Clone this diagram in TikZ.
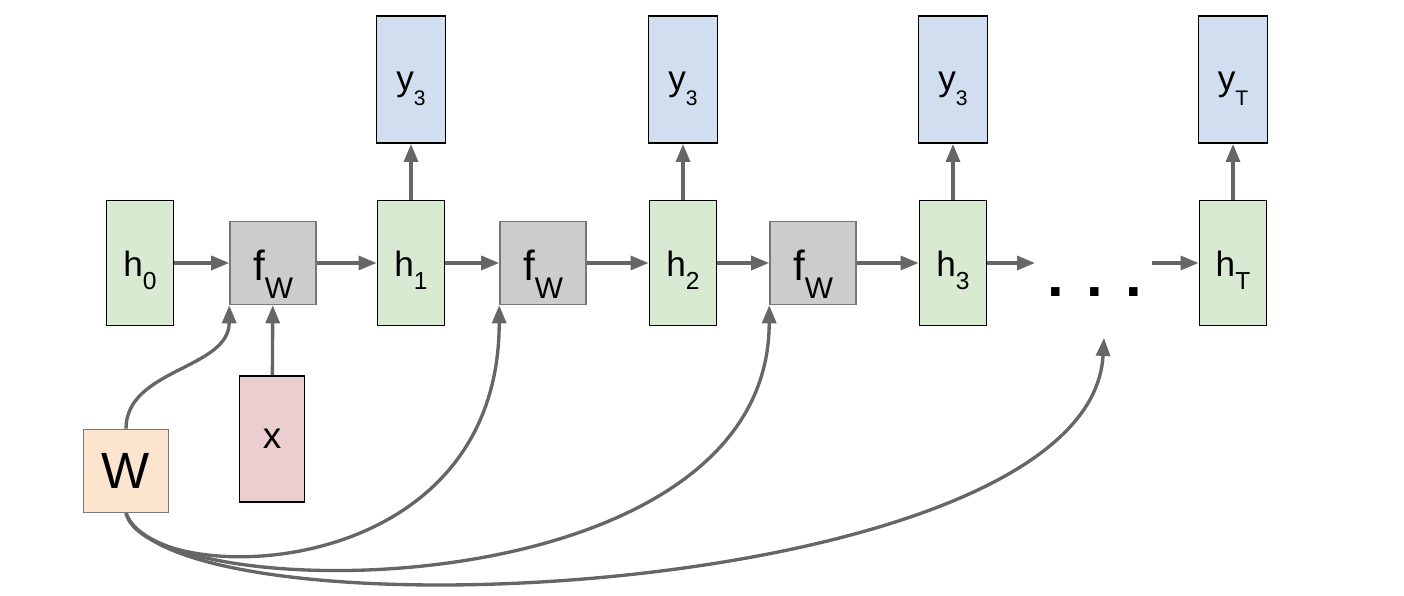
\documentclass[tikz,border=0pt]{standalone}
\usepackage{fontspec}
\setmainfont{Liberation Sans}
\usetikzlibrary{arrows.meta}

\definecolor{hgreen}{HTML}{D9EAD3}
\definecolor{yblue}{HTML}{D0DEEF}
\definecolor{xred}{HTML}{EBCECE}
\definecolor{wtan}{HTML}{FBE5CF}
\definecolor{fgray}{HTML}{CCCCCC}
\definecolor{edgegray}{HTML}{777777}
\definecolor{arrowgray}{HTML}{666666}
\newcommand{\lowered}[3]{\raisebox{-#1}{\fontsize{#2}{#2}\selectfont #3}}

\begin{document}
\begin{tikzpicture}[
  >={Triangle[length=0.36cm,width=0.28cm]},
  hbox/.style={draw=black, line width=1.1pt, fill=hgreen, inner sep=0pt,
    minimum width=1.34cm, minimum height=2.5cm,
    text height=0.81cm, text depth=0.27cm, font=\fontsize{20}{24}\selectfont},
  ybox/.style={draw=black, line width=1.1pt, fill=yblue, inner sep=0pt,
    minimum width=1.38cm, minimum height=2.54cm,
    text height=0.76cm, text depth=0.3cm, font=\fontsize{20}{24}\selectfont},
  fwbox/.style={draw=edgegray, line width=0.9pt, fill=fgray, inner sep=0pt,
    minimum width=1.72cm, minimum height=1.66cm,
    text height=1.07cm, text depth=0.37cm, font=\fontsize{24}{28}\selectfont},
  wbox/.style={draw=edgegray, line width=0.9pt, fill=wtan,
    minimum width=1.7cm, minimum height=1.66cm, font=\fontsize{29}{34}\selectfont},
  xbox/.style={draw=black, line width=1.1pt, fill=xred,
    minimum width=1.3cm, minimum height=2.52cm, font=\fontsize{21}{25}\selectfont},
  flow/.style={draw=arrowgray, line width=1.9pt, ->}
]
  \useasboundingbox (0,0) rectangle (28.08,11.92);

  \node[hbox] (h0) at (2.80,6.66) {h\lowered{0.27cm}{14}{0}};
  \node[fwbox] (fw1) at (5.46,6.66) {f\lowered{0.37cm}{17}{W}};
  \node[hbox] (h1) at (8.22,6.66) {h\lowered{0.27cm}{14}{1}};
  \node[fwbox] (fw2) at (10.86,6.66) {f\lowered{0.37cm}{17}{W}};
  \node[hbox] (h2) at (13.66,6.66) {h\lowered{0.27cm}{14}{2}};
  \node[fwbox] (fw3) at (16.26,6.66) {f\lowered{0.37cm}{17}{W}};
  \node[hbox] (h3) at (19.06,6.66) {h\lowered{0.27cm}{14}{3}};
  \node[font=\fontsize{34}{40}\selectfont\bfseries] (dots) at (21.9,6.08) {. . .};
  \node[hbox] (hT) at (24.66,6.66) {h\lowered{0.27cm}{14}{T}};

  \node[ybox] (y1) at (8.22,10.33) {y\lowered{0.3cm}{12}{3}};
  \node[ybox] (y2) at (13.66,10.33) {y\lowered{0.3cm}{12}{3}};
  \node[ybox] (y3) at (19.06,10.33) {y\lowered{0.3cm}{12}{3}};
  \node[ybox] (yT) at (24.66,10.33) {y\lowered{0.3cm}{12}{T}};

  \node[wbox] (W) at (2.52,2.50) {W};
  \node[xbox] (x) at (5.44,3.14) {x};

  \coordinate (dotsleft) at (20.7,6.66);
  \coordinate (dotsright) at (23.04,6.66);
  \coordinate (dotsin) at (22.08,5.16);

  \draw[flow] (h0) -- (fw1);
  \draw[flow] (fw1) -- (h1);
  \draw[flow] (h1) -- (fw2);
  \draw[flow] (fw2) -- (h2);
  \draw[flow] (h2) -- (fw3);
  \draw[flow] (fw3) -- (h3);
  \draw[flow] (h3.east) -- (dotsleft);
  \draw[flow] (dotsright) -- (hT.west);

  \draw[flow] (h1) -- (y1);
  \draw[flow] (h2) -- (y2);
  \draw[flow] (h3) -- (y3);
  \draw[flow] (hT) -- (yT);

  \draw[flow] (x) -- (fw1);
  \draw[flow] (W.north) .. controls +(0,1.2) and +(0,-1.28) .. (fw1.south west);
  \draw[flow] (W.south) .. controls +(0.4,-1.5) and +(0,-5.7) .. (fw2.south west);
  \draw[flow] (W.south) .. controls +(0.6,-1.9) and +(0,-6.1) .. (fw3.south west);
  \draw[flow] (W.south) .. controls +(1.0,-2.6) and +(-0.28,-5.24) .. (dotsin);
\end{tikzpicture}
\end{document}
